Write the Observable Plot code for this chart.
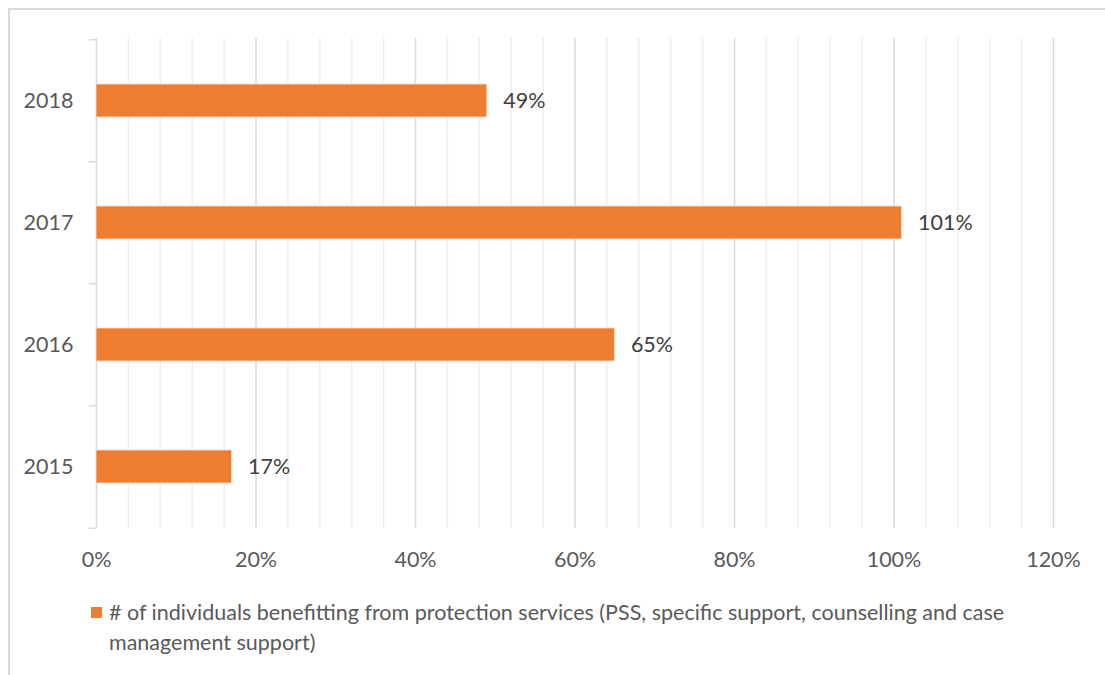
<!DOCTYPE html>
<html>
<head>
<meta charset="utf-8">
<script src="https://cdn.jsdelivr.net/npm/d3@7"></script>
<script src="https://cdn.jsdelivr.net/npm/@observablehq/plot@0.6"></script>
<style>
  html, body { margin: 0; padding: 0; background: #fff; }
  #frame { position: absolute; left: 8px; top: 8px; width: 1097px; height: 667px;
           border-left: 2px solid #d9d9d9; border-top: 2px solid #d9d9d9; box-sizing: border-box; }
  #chart { position: absolute; left: 0; top: 0; }
  #legend { position: absolute; left: 91px; top: 597px; width: 950px; display: flex;
            font-family: Lato, "Open Sans", sans-serif; font-size: 21.5px; color: #595959; line-height: 30px; }
  #legend .sw { width: 11px; height: 11px; background: #ED7D31; margin-top: 10px; margin-right: 7px; flex: none; }
</style>
</head>
<body>
<div id="frame"></div>
<div id="chart"></div>
<div id="legend"><div class="sw"></div><div id="legtext"></div></div>
<script>
const years = ["2018", "2017", "2016", "2015"];
const values = [49, 101, 65, 17];
const xTicks = [0, 20, 40, 60, 80, 100, 120];
const minorTicks = d3.range(0, 121, 4).filter(v => v % 20 !== 0);
const seriesName = "# of individuals benefitting from protection services (PSS, specific support, counselling and case management support)";

const data = years.map((y, i) => ({year: y, value: values[i]}));

const W = 1105, H = 580, mt = 38, mb = 52, ml = 96, mr = 52;
const step = (H - mt - mb) / years.length;
const fs = 21.5;

const plot = Plot.plot({
  width: W, height: H,
  marginTop: mt, marginBottom: mb, marginLeft: ml, marginRight: mr,
  style: {fontFamily: "Lato, 'Open Sans', sans-serif", fontSize: fs + "px", color: "#595959", background: "transparent"},
  x: {domain: [0, 120], label: null},
  y: {domain: years, paddingInner: 0.73, paddingOuter: 0.365, label: null},
  marks: [
    Plot.ruleX(minorTicks, {stroke: "#eeeeee", strokeWidth: 1.5}),
    Plot.ruleX(xTicks.filter(v => v > 0), {stroke: "#d9d9d9", strokeWidth: 1.5}),
    Plot.ruleX([0], {stroke: "#d9d9d9", strokeWidth: 1.5}),
    Plot.ruleY(years, {y: d => d, x1: -0.9, x2: 0, dy: -step / 2, stroke: "#d9d9d9", strokeWidth: 1.5}),
    Plot.ruleY([years[years.length - 1]], {y: d => d, x1: -0.9, x2: 0, dy: step / 2, stroke: "#d9d9d9", strokeWidth: 1.5}),
    Plot.barX(data, {x: "value", y: "year", fill: "#ED7D31", stroke: "#fbe0cf", strokeWidth: 0.8}),
    Plot.text(data, {x: "value", y: "year", text: d => d.value + "%", textAnchor: "start", dx: 16, fill: "#404040", fontSize: fs}),
    Plot.axisX(xTicks, {tickSize: 0, tickPadding: 23, tickFormat: d => d + "%", fill: "#595959", fontSize: fs}),
    Plot.axisY(years, {tickSize: 0, tickPadding: 23, fill: "#595959", fontSize: fs})
  ]
});
document.getElementById("chart").appendChild(plot);
document.getElementById("legtext").textContent = seriesName;
</script>
</body>
</html>
